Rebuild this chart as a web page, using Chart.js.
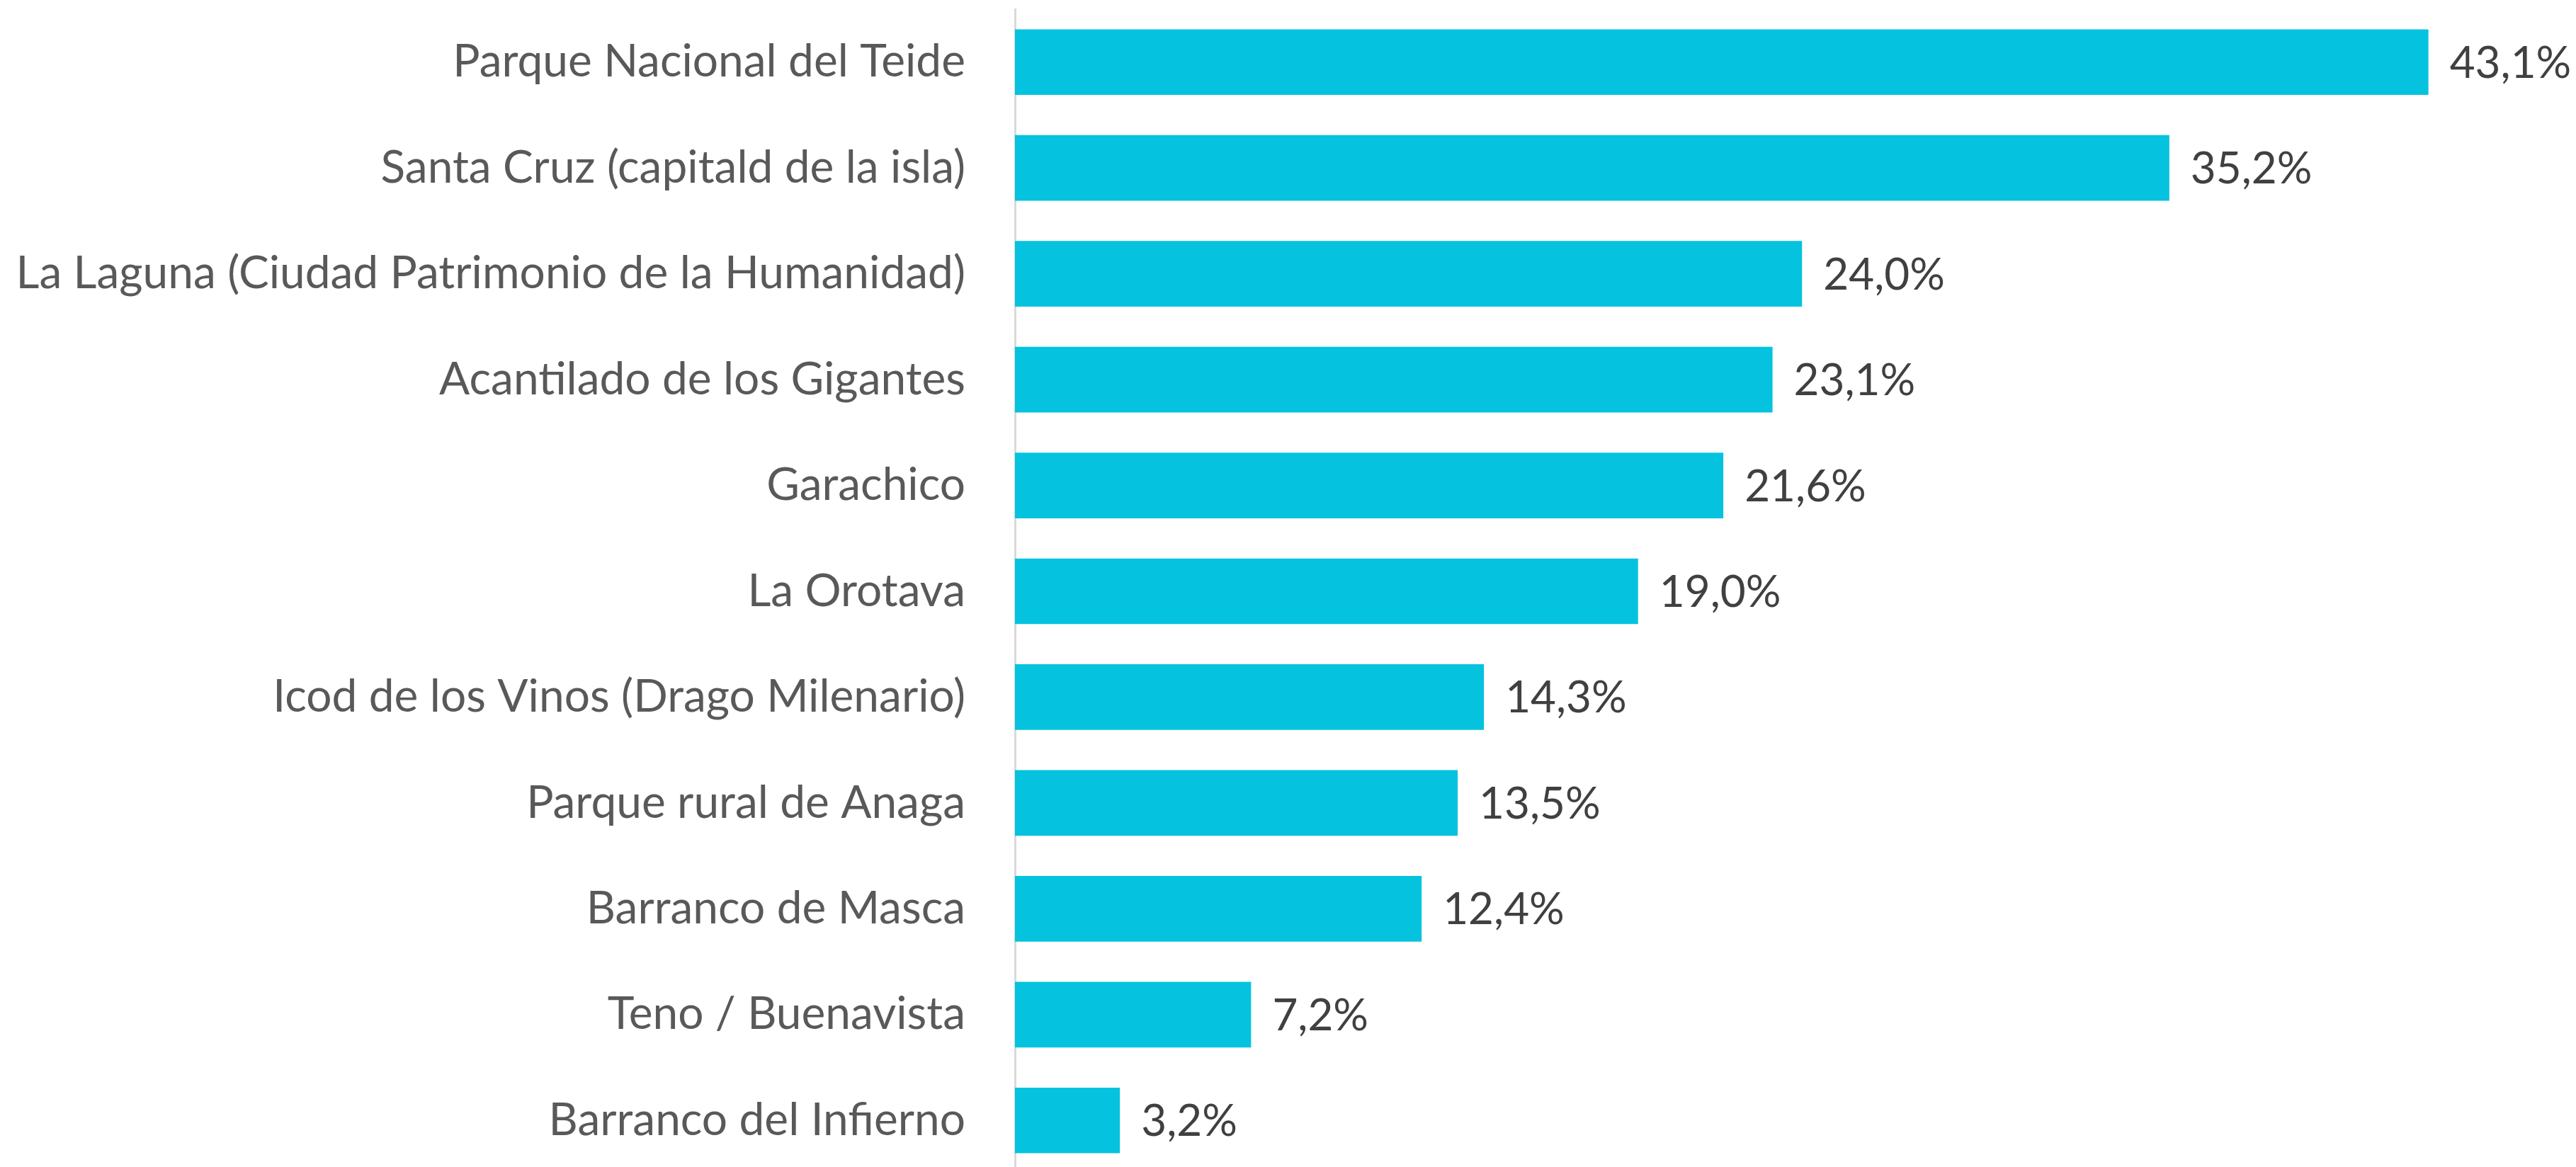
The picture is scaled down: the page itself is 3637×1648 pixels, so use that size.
<!DOCTYPE html>
<html>
<head>
<meta charset="utf-8">
<script src="https://cdn.jsdelivr.net/npm/chart.js@4/dist/chart.umd.min.js"></script>
<style>
  html, body { margin: 0; padding: 0; background: #ffffff; overflow: hidden; }
  #wrap { position: relative; width: 3637px; height: 1657px; }
</style>
</head>
<body>
<div id="wrap"><canvas id="statsChart"></canvas></div>
<script>
// data
const categories = [
  "Parque Nacional del Teide",
  "Santa Cruz (capitald de la isla)",
  "La Laguna (Ciudad Patrimonio de la Humanidad)",
  "Acantilado de los Gigantes",
  "Garachico",
  "La Orotava",
  "Icod de los Vinos (Drago Milenario)",
  "Parque rural de Anaga",
  "Barranco de Masca",
  "Teno / Buenavista",
  "Barranco del Infierno",
];
const values = [43.1, 35.2, 24.0, 23.1, 21.6, 19.0, 14.3, 13.5, 12.4, 7.2, 3.2];

const barColor = "#05C3DE";
const labelColor = "#595959";
const valueColor = "#404040";
const fontFamily = "Lato, 'Open Sans', sans-serif";

// value labels at the end of each bar
const valueLabels = {
  id: "valueLabels",
  afterDatasetsDraw(chart) {
    const ctx = chart.ctx;
    const meta = chart.getDatasetMeta(0);
    ctx.save();
    ctx.fillStyle = valueColor;
    ctx.font = `62px ${fontFamily}`;
    ctx.textAlign = "left";
    ctx.textBaseline = "middle";
    meta.data.forEach((bar, i) => {
      const txt = values[i].toFixed(1).replace(".", ",") + "%";
      ctx.fillText(txt, bar.x + 30, bar.y + 2);
    });
    ctx.restore();
  },
};

const ctx = document.getElementById("statsChart").getContext("2d");
new Chart(ctx, {
  type: "bar",
  data: {
    labels: categories,
    datasets: [
      {
        data: values,
        backgroundColor: barColor,
        borderWidth: 0,
        categoryPercentage: 1,
        barPercentage: 0.62,
      },
    ],
  },
  options: {
    indexAxis: "y",
    responsive: true,
    maintainAspectRatio: false,
    animation: false,
    layout: { padding: { top: 13, right: 0, bottom: 0, left: 0 } },
    scales: {
      x: {
        display: false,
        min: 0,
        max: 47.6,
      },
      y: {
        grid: { display: false },
        border: { display: true, color: "#D9D9D9", width: 3 },
        ticks: {
          color: labelColor,
          padding: 62,
          font: { family: fontFamily, size: 64 },
        },
        afterFit: (scale) => {
          scale.width = 1433;
          scale.paddingTop = 0;
          scale.paddingBottom = 0;
        },
      },
    },
    plugins: {
      legend: { display: false },
      tooltip: { enabled: false },
    },
  },
  plugins: [valueLabels],
});
</script>
</body>
</html>
